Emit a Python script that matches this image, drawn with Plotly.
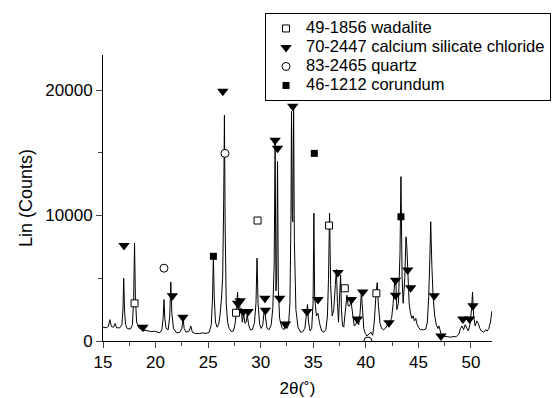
import plotly.graph_objects as go

# XRD profile (2-theta, counts)
two_theta = [
    15.0, 15.3, 15.5, 15.65, 15.8, 16.0, 16.15, 16.3, 16.6, 16.8, 16.9, 16.97, 17.05, 17.15, 17.3,
    17.6, 17.8, 17.92, 18.0, 18.08, 18.2, 18.4, 18.7, 19.0, 19.3, 19.6, 19.9, 20.2, 20.4, 20.6,
    20.72, 20.8, 20.88, 21.0, 21.2, 21.35, 21.45, 21.55, 21.7, 22.0, 22.3, 22.5, 22.62, 22.72, 22.9,
    23.2, 23.35, 23.5, 23.8, 24.2, 24.5, 24.8, 25.1, 25.3, 25.42, 25.5, 25.58, 25.7, 25.85, 26.0,
    26.15, 26.28, 26.38, 26.48, 26.55, 26.62, 26.72, 26.85, 27.0, 27.2, 27.4, 27.55, 27.7, 27.8, 27.88,
    27.97, 28.05, 28.15, 28.25, 28.38, 28.5, 28.62, 28.72, 28.85, 29.0, 29.2, 29.4, 29.55, 29.65, 29.75,
    29.9, 30.05, 30.2, 30.35, 30.45, 30.6, 30.8, 31.0, 31.15, 31.28, 31.37, 31.45, 31.52, 31.6, 31.68,
    31.8, 32.0, 32.2, 32.35, 32.5, 32.65, 32.78, 32.88, 32.93, 33.0, 33.05, 33.13, 33.2, 33.35, 33.55,
    33.8, 34.0, 34.2, 34.35, 34.45, 34.55, 34.7, 34.85, 34.98, 35.06, 35.13, 35.3, 35.45, 35.6, 35.8,
    36.0, 36.2, 36.35, 36.45, 36.55, 36.65, 36.8, 36.95, 37.1, 37.2, 37.3, 37.4, 37.5, 37.6, 37.68,
    37.78, 37.9, 38.05, 38.2, 38.32, 38.45, 38.6, 38.75, 38.9, 39.05, 39.2, 39.32, 39.45, 39.58, 39.7,
    39.8, 39.95, 40.1, 40.3, 40.5, 40.65, 40.8, 40.95, 41.08, 41.2, 41.35, 41.5, 41.7, 41.85, 42.0,
    42.2, 42.45, 42.6, 42.75, 42.85, 42.95, 43.1, 43.25, 43.34, 43.45, 43.55, 43.7, 43.82, 43.9, 44.0,
    44.12, 44.25, 44.38, 44.5, 44.62, 44.75, 44.85, 45.0, 45.2, 45.5, 45.7, 45.85, 45.98, 46.1, 46.17,
    46.28, 46.4, 46.55, 46.7, 46.85, 46.95, 47.05, 47.15, 47.3, 47.5, 47.8, 48.0, 48.3, 48.6, 48.85,
    49.0, 49.15, 49.3, 49.45, 49.6, 49.75, 49.9, 50.05, 50.15, 50.25, 50.4, 50.55, 50.7, 50.85, 51.0,
    51.2, 51.4, 51.55, 51.7, 51.85, 52.0,
]
counts = [
    1100, 1050, 1150, 1700, 1150, 1100, 1400, 1050, 1050, 1300, 2500, 5000, 2400, 1300, 1000,
    950, 1300, 3500, 7800, 3500, 1500, 1050, 900, 850, 800, 750, 780, 700, 650, 900,
    1800, 3300, 1800, 1000, 900, 2000, 4700, 2200, 1000, 650, 700, 1000, 1800, 1000, 700,
    800, 1200, 700, 600, 600, 650, 600, 700, 1300, 3500, 6800, 3500, 1500, 1100, 1300,
    2200, 3500, 5000, 11000, 18000, 9000, 3000, 1500, 1000, 750, 800, 1300, 2400, 3900, 2500,
    3400, 2200, 2600, 1500, 2200, 1400, 1500, 2100, 1300, 900, 900, 1400, 3000, 6600, 3000,
    1300, 1000, 1300, 2600, 1800, 1000, 900, 1300, 2600, 6000, 15800, 4000, 5000, 14300, 4000,
    1800, 1100, 900, 1200, 1000, 1300, 3000, 10000, 18300, 10000, 9500, 18800, 8000, 2500, 1100,
    700, 750, 1000, 2500, 2900, 1500, 800, 1000, 3000, 10200, 3500, 2000, 2200, 1400, 800,
    700, 900, 2000, 5000, 10200, 4500, 2000, 2500, 4500, 5700, 3000, 1500, 3500, 5250, 2500,
    1200, 1100, 2500, 3650, 2800, 2800, 3100, 2000, 1200, 1300, 1800, 1300, 2200, 3900, 2500,
    1000, 600, 400, 550, 700, 450, 1500, 3500, 4650, 2800, 1400, 1000, 900, 1000, 1200,
    1500, 1800, 3000, 4800, 4900, 2500, 3000, 7000, 13100, 5000, 3000, 5000, 8300, 7500, 5500,
    3000, 2200, 1800, 2000, 1600, 1800, 1400, 1100, 900, 900, 950, 1500, 3500, 7000, 9500,
    6000, 3500, 2000, 1300, 1000, 1200, 900, 600, 450, 350, 350, 300, 350, 350, 550,
    1000, 1200, 900, 1300, 1100, 800, 1300, 2500, 3900, 2000, 1200, 1600, 1400, 1000, 800,
    700, 900, 800, 1000, 1500, 2400,
]

# Phase markers (2-theta, counts)
wadalite_x = [18.0, 27.65, 29.7, 36.5, 38.0, 41.0]
wadalite_y = [3000, 2250, 9600, 9200, 4200, 3800]

ccl_x = [17.0, 18.8, 21.6, 22.6, 26.4, 27.8, 28.05, 28.35, 28.8, 30.4, 30.45, 31.37, 31.6, 31.8,
         32.35, 33.05, 34.4, 35.45, 37.35, 38.63, 39.2, 39.7, 42.2, 42.83, 42.83, 43.98, 44.26,
         46.5, 47.15, 49.23, 49.86, 50.19]
ccl_y = [7600, 1100, 3600, 1900, 19900, 3000, 3200, 2350, 2350, 3400, 2450, 16000, 15350, 3400,
         1350, 18700, 2350, 3300, 5450, 3300, 1750, 3900, 1450, 4850, 3650, 5650, 4250,
         3600, 400, 1750, 1750, 2800]

quartz_x = [20.8, 26.6, 40.2]
quartz_y = [5800, 14950, 0]

corundum_x = [25.5, 35.1, 43.34]
corundum_y = [6750, 14950, 9900]

legend_names = [
    "49-1856 wadalite",
    "70-2447 calcium silicate chloride",
    "83-2465 quartz",
    "46-1212 corundum",
]

def lbl(t):
    return '<span style="font-size:16.5px">' + t + '</span>'

fig = go.Figure()
fig.add_trace(go.Scatter(x=two_theta, y=counts, mode="lines",
                         line=dict(color="black", width=1), showlegend=False,
                         hoverinfo="skip"))
fig.add_trace(go.Scatter(x=wadalite_x, y=wadalite_y, mode="markers", name=lbl(legend_names[0]),
                         marker=dict(symbol="square", size=7, color="white",
                                     line=dict(color="black", width=1))))
fig.add_trace(go.Scatter(x=ccl_x, y=ccl_y, mode="markers", name=lbl(legend_names[1]),
                         marker=dict(symbol="triangle-down", size=10, color="black",
                                     line=dict(width=0))))
fig.add_trace(go.Scatter(x=quartz_x, y=quartz_y, mode="markers", name=lbl(legend_names[2]),
                         marker=dict(symbol="circle", size=8, color="white",
                                     line=dict(color="black", width=1))))
fig.add_trace(go.Scatter(x=corundum_x, y=corundum_y, mode="markers", name=lbl(legend_names[3]),
                         marker=dict(symbol="square", size=7, color="black",
                                     line=dict(width=0))))

axis_common = dict(showline=True, linecolor="black", linewidth=1, ticks="outside",
                   ticklen=6, tickcolor="#444", showgrid=False, zeroline=False,
                   tickfont=dict(size=17, color="black"))

fig.update_layout(
    width=557, height=398,
    margin=dict(l=103, r=65, t=55, b=57, autoexpand=False),
    plot_bgcolor="white", paper_bgcolor="white",
    font=dict(family="Liberation Sans, Arial, sans-serif", size=17, color="black"),
    xaxis=dict(range=[15, 52], tick0=15, dtick=5,
               minor=dict(dtick=2.5, ticks="outside", ticklen=4, tickcolor="#444"),
               title=dict(text="2θ(˚)", font=dict(size=17), standoff=10),
               **axis_common),
    yaxis=dict(range=[0, 22790], tick0=0, dtick=10000, tickformat="d",
               minor=dict(dtick=5000, ticks="outside", ticklen=4, tickcolor="#444"),
               title=dict(text="Lin (Counts)", font=dict(size=18), standoff=8),
               **axis_common),
    legend=dict(x=0.4165, y=1.147, xanchor="left", yanchor="top",
                bgcolor="white", bordercolor="black", borderwidth=1,
                font=dict(size=12), tracegroupgap=0),
    showlegend=True,
)

fig.write_html("out.html")
